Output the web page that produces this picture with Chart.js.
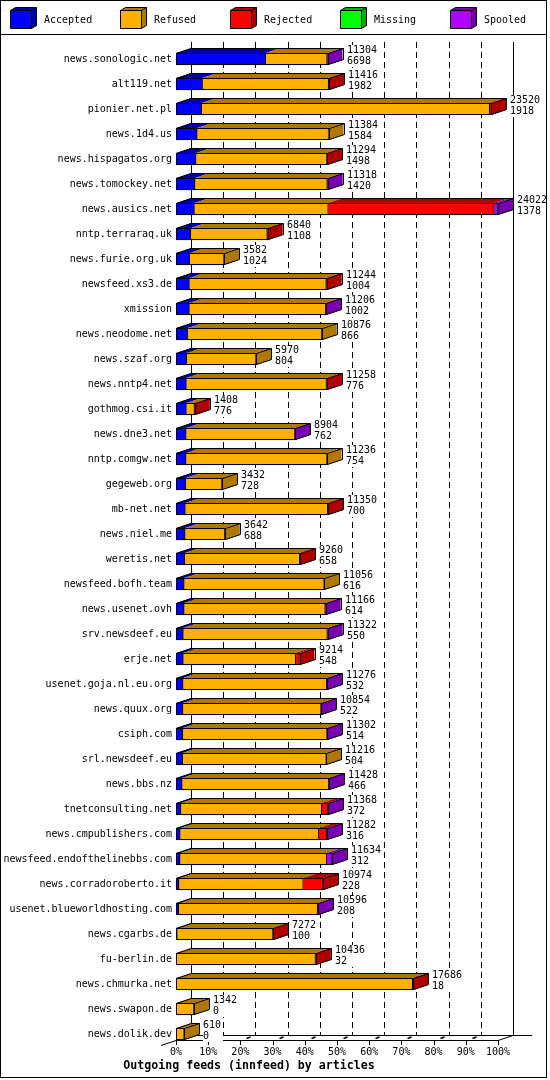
<!DOCTYPE html>
<html>
<head>
<meta charset="utf-8">
<script src="https://cdn.jsdelivr.net/npm/chart.js@4/dist/chart.umd.min.js"></script>
<style>
html,body{margin:0;padding:0;background:#fff;}
#wrap{position:relative;width:550px;height:1080px;}
</style>
</head>
<body>
<div id="wrap"><canvas id="c"></canvas></div>
<script>
// ---- data ----
const hosts = [
  'news.sonologic.net','alt119.net','pionier.net.pl','news.1d4.us','news.hispagatos.org',
  'news.tomockey.net','news.ausics.net','nntp.terraraq.uk','news.furie.org.uk','newsfeed.xs3.de',
  'xmission','news.neodome.net','news.szaf.org','news.nntp4.net','gothmog.csi.it',
  'news.dne3.net','nntp.comgw.net','gegeweb.org','mb-net.net','news.niel.me',
  'weretis.net','newsfeed.bofh.team','news.usenet.ovh','srv.newsdeef.eu','erje.net',
  'usenet.goja.nl.eu.org','news.quux.org','csiph.com','srl.newsdeef.eu','news.bbs.nz',
  'tnetconsulting.net','news.cmpublishers.com','newsfeed.endofthelinebbs.com','news.corradoroberto.it','usenet.blueworldhosting.com',
  'news.cgarbs.de','fu-berlin.de','news.chmurka.net','news.swapon.de','news.dolik.dev'
];
const offered = [
  11304,11416,23520,11384,11294, 11318,24022,6840,3582,11244,
  11206,10876,5970,11258,1408, 8904,11236,3432,11350,3642,
  9260,11056,11166,11322,9214, 11276,10854,11302,11216,11428,
  11368,11282,11634,10974,10596, 7272,10436,17686,1342,610
];
const accepted = [
  6698,1982,1918,1584,1498, 1420,1378,1108,1024,1004,
  1002,866,804,776,776, 762,754,728,700,688,
  658,616,614,550,548, 532,522,514,504,466,
  372,316,312,228,208, 100,32,18,0,0
];
const refused = [
  4576,9404,21482,9800,9766, 9868,9984,5702,2558,10210,
  10174,10010,5166,10452,602, 8112,10482,2704,10620,2954,
  8572,10440,10522,10742,8382, 10714,10302,10758,10712,10932,
  10497,10330,10931,9270,10358, 7142,10374,17638,1342,610
];
const rejected = [
  0,30,120,0,30, 0,12383,30,0,30,
  0,0,0,30,30, 0,0,0,30,0,
  30,0,0,0,284, 0,0,0,0,0,
  469,606,0,1476,0, 30,30,30,0,0
];
const missing = [
  0,0,0,0,0, 0,0,0,0,0,
  0,0,0,0,0, 0,0,0,0,0,
  0,0,0,0,0, 0,0,0,0,0,
  0,0,0,0,0, 0,0,0,0,0
];
const spooled = [
  30,0,0,0,0, 30,277,0,0,0,
  30,0,0,0,0, 30,0,0,0,0,
  0,0,30,30,0, 30,30,30,0,30,
  30,30,391,0,30, 0,0,0,0,0
];
const seriesNames = ['Accepted','Refused','Rejected','Missing','Spooled'];
const xTickValues = [0,10,20,30,40,50,60,70,80,90,100];
const chartTitle = 'Outgoing feeds (innfeed) by articles';

// ---- styles ----
const frontColors = ['#0000ff','#ffb000','#ff0000','#00ff00','#b000ff'];
const darkColors  = ['#0000b0','#b07800','#b00000','#00b000','#7800b0'];
const FONT = "'DejaVu Sans Mono', 'Liberation Mono', monospace";
const DX = 15, DY = 5;

const series = [accepted, refused, rejected, missing, spooled];
const maxTotal = Math.max(...offered);
const toPct = arr => arr.map(v => v / maxTotal * 100);

const crisp = v => Math.round(v) + 0.5;

const depthPlugin = {
  id: 'depth3d',
  beforeDatasetsDraw(chart) {
    const {ctx, scales: {x, y}} = chart;
    const n = chart.data.labels.length;
    const floorY = Math.round(y.getPixelForValue(n - 1) + 6);
    const topY = Math.round(y.getPixelForValue(0) - 17);
    ctx.save();
    ctx.strokeStyle = '#000';
    ctx.lineWidth = 1;
    // back plane grid
    xTickValues.forEach(v => {
      const bx = crisp(x.getPixelForValue(v) + DX);
      ctx.setLineDash(v === 0 || v === 100 ? [] : [6, 4]);
      ctx.beginPath();
      ctx.moveTo(bx, topY);
      ctx.lineTo(bx, floorY - DY);
      ctx.stroke();
    });
    ctx.setLineDash([]);
    const x0 = Math.round(x.getPixelForValue(0));
    const x1 = Math.round(x.getPixelForValue(100));
    // back floor line
    ctx.beginPath();
    ctx.moveTo(x0 + DX, floorY - DY + 0.5);
    ctx.lineTo(x1 + DX + 19, floorY - DY + 0.5);
    ctx.stroke();
    // front floor line
    ctx.beginPath();
    ctx.moveTo(x0, floorY + 0.5);
    ctx.lineTo(x1, floorY + 0.5);
    ctx.stroke();
    // floor slants
    ctx.beginPath();
    ctx.moveTo(x1, floorY + 0.5);
    ctx.lineTo(x1 + DX, floorY - DY + 0.5);
    ctx.moveTo(x0 - DX, floorY + DY + 0.5);
    ctx.lineTo(x0 + DX, floorY - DY + 0.5);
    ctx.stroke();
    // front ticks and depth marks
    xTickValues.forEach(v => {
      const fx = crisp(x.getPixelForValue(v));
      ctx.beginPath();
      ctx.moveTo(fx, floorY);
      ctx.lineTo(fx, floorY + 5);
      ctx.stroke();
      if (v < 100) {
        ctx.lineWidth = 1.5;
        ctx.beginPath();
        ctx.moveTo(fx + 6, floorY - 1.5);
        ctx.lineTo(fx + 10, floorY - 3);
        ctx.stroke();
        ctx.lineWidth = 1;
      }
    });
    ctx.restore();
  },
  afterDatasetsDraw(chart) {
    const {ctx} = chart;
    const n = chart.data.labels.length;
    const metas = chart.data.datasets.map((d, i) => chart.getDatasetMeta(i));
    ctx.save();
    for (let i = 0; i < n; i++) {
      let xStart = null, xEnd = null, top = null, bottom = null, last = -1;
      metas.forEach((meta, d) => {
        const el = meta.data[i];
        if (!el) return;
        const p = el.getProps(['x', 'y', 'base', 'height'], true);
        const val = series[d][i];
        top = p.y - p.height / 2;
        bottom = p.y + p.height / 2;
        if (xStart === null) xStart = p.base;
        if (val > 0) {
          const a = Math.min(p.base, p.x), b = Math.max(p.base, p.x);
          ctx.fillStyle = darkColors[d];
          ctx.beginPath();
          ctx.moveTo(a, top);
          ctx.lineTo(b, top);
          ctx.lineTo(b + DX, top - DY);
          ctx.lineTo(a + DX, top - DY);
          ctx.closePath();
          ctx.fill();
          last = d;
          xEnd = b;
        }
      });
      if (last < 0) continue;
      // side face
      ctx.fillStyle = darkColors[last];
      ctx.beginPath();
      ctx.moveTo(xEnd, top);
      ctx.lineTo(xEnd + DX, top - DY);
      ctx.lineTo(xEnd + DX, bottom - DY);
      ctx.lineTo(xEnd, bottom);
      ctx.closePath();
      ctx.fill();
      // outlines
      const L = crisp(xStart), R = crisp(xEnd), T = crisp(top), B = Math.round(bottom) - 0.5;
      ctx.strokeStyle = '#000';
      ctx.lineWidth = 1;
      ctx.beginPath();
      ctx.moveTo(L, B);
      ctx.lineTo(L, T);
      ctx.lineTo(L + DX, T - DY);
      ctx.lineTo(R + DX, T - DY);
      ctx.lineTo(R + DX, B - DY);
      ctx.lineTo(R, B);
      ctx.lineTo(L, B);
      ctx.moveTo(L, T);
      ctx.lineTo(R, T);
      ctx.lineTo(R + DX, T - DY);
      ctx.moveTo(R, T);
      ctx.lineTo(R, B);
      ctx.stroke();
      // value labels on white backing
      ctx.font = '10px ' + FONT;
      ctx.textAlign = 'left';
      ctx.textBaseline = 'middle';
      const cy = (top + bottom) / 2;
      const tx = Math.round(xEnd + DX + 4);
      const t1 = String(offered[i]), t2 = String(accepted[i]);
      const w = Math.max(ctx.measureText(t1).width, ctx.measureText(t2).width);
      ctx.fillStyle = '#fff';
      ctx.fillRect(tx, Math.round(cy - 14), Math.ceil(w) + 1, 22);
      ctx.fillStyle = '#000';
      ctx.fillText(t1, tx, cy - 9);
      ctx.fillText(t2, tx, cy + 2);
    }
    ctx.restore();
  },
  afterDraw(chart) {
    const {ctx} = chart;
    ctx.save();
    ctx.strokeStyle = '#000';
    ctx.lineWidth = 1;
    // frame
    ctx.strokeRect(0.5, 0.5, 546, 1077);
    ctx.beginPath();
    ctx.moveTo(0, 34.5);
    ctx.lineTo(547, 34.5);
    ctx.stroke();
    // legend
    chart.data.datasets.forEach((ds, i) => {
      const fx = 10 + 110 * i;
      const L = fx + 0.5, R = fx + 21.5, T = 10.5, B = 28.5, dx = 5, dy = 3;
      ctx.fillStyle = frontColors[i];
      ctx.fillRect(L, T, R - L, B - T);
      ctx.fillStyle = darkColors[i];
      ctx.beginPath();
      ctx.moveTo(L, T); ctx.lineTo(R, T); ctx.lineTo(R + dx, T - dy); ctx.lineTo(L + dx, T - dy); ctx.closePath();
      ctx.fill();
      ctx.beginPath();
      ctx.moveTo(R, T); ctx.lineTo(R + dx, T - dy); ctx.lineTo(R + dx, B - dy); ctx.lineTo(R, B); ctx.closePath();
      ctx.fill();
      ctx.beginPath();
      ctx.rect(L, T, R - L, B - T);
      ctx.moveTo(L, T); ctx.lineTo(L + dx, T - dy); ctx.lineTo(R + dx, T - dy); ctx.lineTo(R, T);
      ctx.moveTo(R + dx, T - dy); ctx.lineTo(R + dx, B - dy); ctx.lineTo(R, B);
      ctx.stroke();
      ctx.fillStyle = '#000';
      ctx.font = '10px ' + FONT;
      ctx.textAlign = 'left';
      ctx.textBaseline = 'middle';
      ctx.fillText(ds.label, 44 + 110 * i, 20);
    });
    ctx.restore();
  }
};

Chart.defaults.font.family = FONT;
Chart.defaults.font.size = 10;
Chart.defaults.color = '#000';

new Chart(document.getElementById('c'), {
  type: 'bar',
  data: {
    labels: hosts,
    datasets: series.map((arr, i) => ({
      label: seriesNames[i],
      data: toPct(arr),
      backgroundColor: frontColors[i],
      borderColor: '#000',
      borderWidth: 1,
      borderSkipped: 'start',
      barThickness: 12,
      clip: false,
      stack: 'feeds'
    }))
  },
  options: {
    indexAxis: 'y',
    responsive: true,
    maintainAspectRatio: false,
    animation: false,
    events: [],
    layout: {padding: {left: 0, right: 52, top: 59, bottom: 7}},
    plugins: {
      legend: {display: false},
      tooltip: {enabled: false},
      title: {
        display: true,
        position: 'bottom',
        text: chartTitle,
        color: '#000',
        font: {family: FONT, size: 11.6, weight: 'bold', lineHeight: '14px'},
        padding: {top: 0, bottom: 0}
      }
    },
    scales: {
      x: {
        stacked: true,
        min: 0,
        max: 100,
        afterBuildTicks(s) { s.ticks = xTickValues.map(v => ({value: v})); },
        afterFit(s) { s.height = 25; },
        grid: {display: false, drawTicks: false},
        border: {display: false},
        ticks: {
          padding: 12,
          autoSkip: false,
          maxRotation: 0,
          color: '#000',
          font: {family: FONT, size: 10},
          callback: v => v + '%'
        }
      },
      y: {
        stacked: true,
        offset: false,
        afterFit(s) { s.width = 176; },
        grid: {display: false, drawTicks: false},
        border: {display: false},
        ticks: {
          padding: 4,
          autoSkip: false,
          color: '#000',
          font: {family: FONT, size: 10}
        }
      }
    }
  },
  plugins: [depthPlugin]
});
</script>
</body>
</html>
